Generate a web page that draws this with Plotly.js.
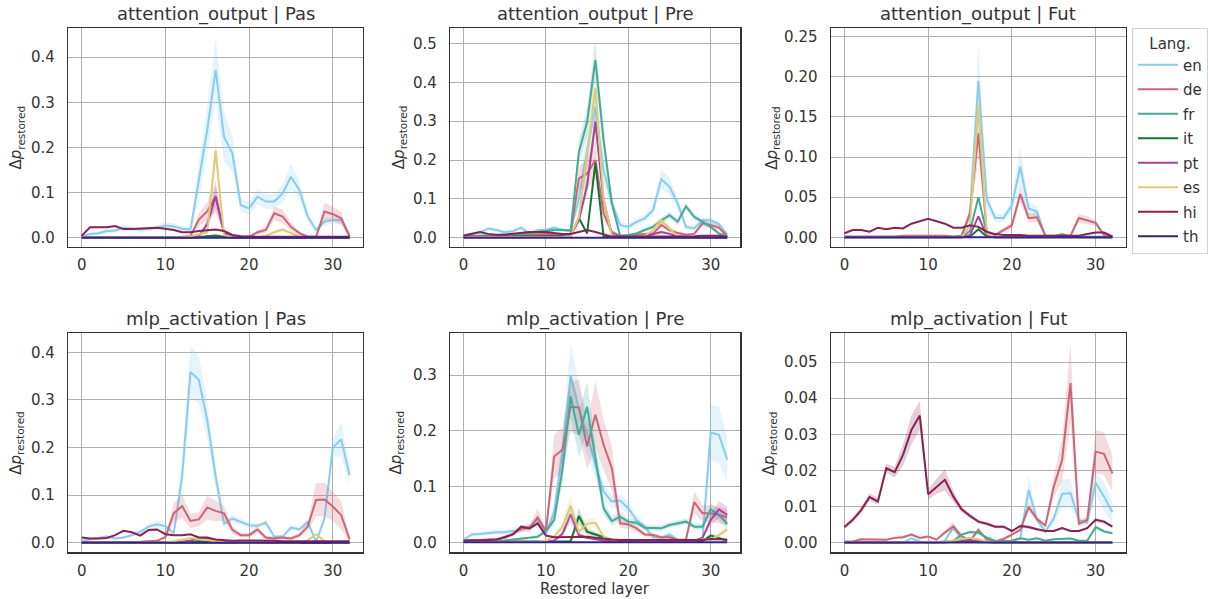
<!DOCTYPE html>
<html>
<head>
<meta charset="utf-8">
<script src="https://cdn.plot.ly/plotly-3.0.1.min.js"></script>
<style>
  html, body { margin: 0; padding: 0; background: #ffffff; }
  #chart { width: 1208px; height: 599px; }
</style>
</head>
<body>
<div id="chart"></div>
<script>
// Restored layer index
const layers = [0,1,2,3,4,5,6,7,8,9,10,11,12,13,14,15,16,17,18,19,20,21,22,23,24,25,26,27,28,29,30,31,32];
const languages = ['en','de','fr','it','pt','es','hi','th'];

// ---------- attention_output | Pas ----------
const attn_pas_en = [0.003,0.008,0.010,0.015,0.016,0.022,0.020,0.018,0.020,0.022,0.027,0.025,0.020,0.018,0.128,0.239,0.372,0.224,0.187,0.072,0.065,0.091,0.080,0.080,0.098,0.135,0.106,0.047,0.017,0.035,0.039,0.039,0.006];
const attn_pas_en_ci = [0.002,0.003,0.004,0.005,0.005,0.006,0.006,0.005,0.005,0.006,0.008,0.007,0.006,0.006,0.040,0.055,0.068,0.055,0.040,0.015,0.014,0.018,0.016,0.016,0.020,0.028,0.022,0.012,0.005,0.008,0.008,0.008,0.003];
const attn_pas_de = [0.001,0.001,0.001,0.001,0.001,0.001,0.001,0.001,0.001,0.001,0.002,0.002,0.002,0.004,0.040,0.058,0.091,0.013,0.004,0.002,0.002,0.012,0.017,0.054,0.047,0.024,0.010,0.002,0.002,0.058,0.052,0.043,0.002];
const attn_pas_de_ci = [0.000,0.000,0.000,0.000,0.000,0.000,0.000,0.000,0.000,0.000,0.001,0.001,0.001,0.002,0.015,0.020,0.035,0.005,0.002,0.001,0.001,0.005,0.006,0.015,0.015,0.010,0.005,0.001,0.001,0.020,0.016,0.015,0.001];
const attn_pas_fr = [0,0,0,0,0,0,0,0,0,0,0,0,0,0,0.001,0.002,0.003,0.001,0,0,0,0,0,0,0,0,0,0,0,0,0,0,0];
const attn_pas_it = [0,0,0,0,0,0,0,0,0,0,0,0,0,0,0.001,0.003,0.005,0.002,0,0,0,0,0,0,0,0,0,0,0,0,0,0,0];
const attn_pas_pt = [0,0,0,0,0,0,0,0,0,0,0,0,0,0,0.003,0.030,0.092,0.010,0.001,0,0,0,0,0.001,0.001,0,0,0,0,0,0,0,0];
const attn_pas_pt_ci = [0,0,0,0,0,0,0,0,0,0,0,0,0,0,0.002,0.010,0.025,0.004,0,0,0,0,0,0,0,0,0,0,0,0,0,0,0];
const attn_pas_es = [0,0,0,0,0,0,0,0,0,0,0,0,0.001,0.003,0.008,0.012,0.193,0.006,0.001,0,0,0.001,0.004,0.012,0.018,0.010,0.002,0,0,0,0,0,0];
const attn_pas_es_ci = [0,0,0,0,0,0,0,0,0,0,0,0,0,0.001,0.003,0.004,0.030,0.002,0,0,0,0,0.002,0.004,0.005,0.004,0.001,0,0,0,0,0,0];
const attn_pas_hi = [0.004,0.023,0.023,0.023,0.026,0.019,0.019,0.020,0.022,0.022,0.020,0.017,0.012,0.012,0.015,0.017,0.018,0.015,0.006,0.003,0.002,0.002,0.002,0.002,0.002,0.002,0.002,0.002,0.002,0.002,0.002,0.002,0.002];
const attn_pas_th = [0,0,0,0,0,0,0,0,0,0,0,0,0,0,0,0,0,0,0,0,0,0,0,0,0,0,0,0,0,0,0,0,0];

// ---------- attention_output | Pre ----------
const attn_pre_en = [0.007,0.011,0.014,0.024,0.020,0.014,0.017,0.026,0.011,0.020,0.020,0.026,0.020,0.020,0.100,0.225,0.337,0.174,0.090,0.033,0.028,0.041,0.050,0.071,0.151,0.131,0.088,0.028,0.024,0.045,0.045,0.035,0.009];
const attn_pre_en_ci = [0.002,0.003,0.004,0.005,0.005,0.004,0.004,0.005,0.004,0.004,0.004,0.005,0.004,0.004,0.030,0.050,0.060,0.040,0.020,0.008,0.008,0.008,0.010,0.014,0.025,0.022,0.016,0.007,0.006,0.008,0.008,0.007,0.003];
const attn_pre_de = [0.005,0.005,0.006,0.006,0.006,0.006,0.007,0.008,0.008,0.009,0.010,0.010,0.010,0.010,0.153,0.165,0.200,0.063,0.015,0.005,0.005,0.008,0.010,0.011,0.033,0.020,0.012,0.008,0.010,0.037,0.033,0.026,0.004];
const attn_pre_de_ci = [0.001,0.001,0.001,0.001,0.001,0.001,0.001,0.002,0.002,0.002,0.002,0.002,0.002,0.002,0.030,0.040,0.050,0.020,0.005,0.002,0.002,0.003,0.003,0.004,0.008,0.006,0.004,0.003,0.003,0.008,0.008,0.007,0.002];
const attn_pre_fr = [0.003,0.004,0.005,0.006,0.006,0.007,0.008,0.010,0.012,0.015,0.018,0.020,0.020,0.018,0.221,0.298,0.458,0.251,0.089,0.005,0.007,0.011,0.020,0.028,0.044,0.058,0.041,0.081,0.054,0.041,0.028,0.011,0.004];
const attn_pre_fr_ci = [0.001,0.001,0.001,0.002,0.002,0.002,0.002,0.003,0.003,0.003,0.004,0.004,0.004,0.004,0.030,0.035,0.050,0.030,0.015,0.002,0.002,0.003,0.005,0.006,0.008,0.008,0.008,0.008,0.008,0.006,0.005,0.003,0.002];
const attn_pre_it = [0.002,0.002,0.003,0.003,0.003,0.003,0.003,0.004,0.004,0.004,0.004,0.004,0.004,0.005,0.051,0.011,0.193,0.003,0.002,0.001,0.001,0.001,0.001,0.001,0.001,0.001,0.001,0.001,0.001,0.001,0.001,0.001,0.001];
const attn_pre_pt = [0.002,0.002,0.002,0.002,0.002,0.002,0.002,0.002,0.002,0.002,0.002,0.003,0.003,0.005,0.045,0.135,0.298,0.097,0.008,0.002,0.002,0.002,0.004,0.010,0.015,0.010,0.004,0.002,0.002,0.002,0.002,0.002,0.001];
const attn_pre_pt_ci = [0,0,0,0,0,0,0,0,0,0,0,0.001,0.001,0.002,0.010,0.020,0.030,0.015,0.003,0,0,0,0.002,0.003,0.004,0.003,0.002,0,0,0,0,0,0];
const attn_pre_es = [0.001,0.001,0.001,0.001,0.001,0.001,0.001,0.001,0.001,0.001,0.001,0.002,0.002,0.004,0.054,0.210,0.386,0.100,0.005,0.001,0.001,0.002,0.005,0.020,0.045,0.025,0.003,0.001,0.001,0.001,0.001,0.001,0.001];
const attn_pre_es_ci = [0,0,0,0,0,0,0,0,0,0,0,0.001,0.001,0.002,0.012,0.030,0.040,0.020,0.002,0,0,0.001,0.002,0.005,0.008,0.006,0.001,0,0,0,0,0,0];
const attn_pre_hi = [0.005,0.010,0.015,0.010,0.008,0.008,0.010,0.012,0.015,0.015,0.015,0.012,0.010,0.010,0.015,0.020,0.015,0.008,0.003,0.003,0.003,0.003,0.003,0.003,0.003,0.003,0.003,0.003,0.004,0.005,0.005,0.005,0.002];
const attn_pre_th = [0,0,0,0,0,0,0,0,0,0,0,0,0,0,0,0,0,0,0,0,0,0,0,0,0,0,0,0,0,0,0,0,0];

// ---------- attention_output | Fut ----------
const attn_fut_en = [0,0,0,0,0,0,0,0,0,0,0,0,0,0,0.002,0.030,0.195,0.047,0.024,0.024,0.040,0.088,0.036,0.032,0.002,0.001,0.001,0.001,0.001,0.001,0.001,0.001,0.001];
const attn_fut_en_ci = [0,0,0,0,0,0,0,0,0,0,0,0,0,0,0.001,0.008,0.045,0.012,0.005,0.005,0.008,0.025,0.008,0.007,0.001,0,0,0,0,0,0,0,0];
const attn_fut_de = [0.001,0.001,0.001,0.001,0.001,0.001,0.001,0.002,0.002,0.002,0.002,0.002,0.002,0.001,0.002,0.030,0.130,0.006,0.003,0.009,0.015,0.054,0.024,0.025,0.002,0.002,0.002,0.002,0.024,0.021,0.018,0.003,0.001];
const attn_fut_de_ci = [0,0,0,0,0,0,0,0.001,0.001,0.001,0.001,0.001,0.001,0,0.001,0.008,0.030,0.002,0.001,0.003,0.004,0.010,0.006,0.006,0.001,0.001,0.001,0.001,0.005,0.005,0.004,0.001,0];
const attn_fut_fr = [0,0,0,0,0,0,0,0,0,0,0,0,0,0,0,0.008,0.050,0.005,0,0,0,0,0,0,0,0.001,0.004,0.001,0,0,0,0,0];
const attn_fut_it = [0,0,0,0,0,0,0,0,0,0,0,0,0,0,0,0.001,0.010,0.001,0,0,0,0,0,0,0,0,0,0,0,0,0,0,0];
const attn_fut_pt = [0,0,0,0,0,0,0,0,0,0,0,0,0,0,0,0.003,0.026,0.002,0,0,0,0,0,0,0,0,0,0,0,0,0,0,0];
const attn_fut_es = [0,0,0,0,0,0,0,0,0,0,0,0,0,0,0,0.015,0.165,0.005,0,0,0,0,0,0,0,0,0,0,0,0,0,0,0];
const attn_fut_es_ci = [0,0,0,0,0,0,0,0,0,0,0,0,0,0,0,0.004,0.020,0.002,0,0,0,0,0,0,0,0,0,0,0,0,0,0,0];
const attn_fut_hi = [0.005,0.009,0.009,0.007,0.012,0.010,0.012,0.011,0.017,0.020,0.023,0.020,0.017,0.012,0.012,0.015,0.013,0.007,0.004,0.003,0.003,0.003,0.002,0.002,0.002,0.002,0.002,0.002,0.002,0.004,0.006,0.006,0.001];
const attn_fut_th = [0,0,0,0,0,0,0,0,0,0,0,0,0,0,0,0,0,0,0,0,0,0,0,0,0,0,0,0,0,0,0,0,0];

// ---------- mlp_activation | Pas ----------
const mlp_pas_en = [0.004,0.007,0.009,0.013,0.009,0.011,0.016,0.023,0.034,0.039,0.035,0.020,0.140,0.359,0.342,0.258,0.140,0.040,0.051,0.044,0.037,0.036,0.042,0.013,0.013,0.032,0.028,0.044,0.002,0.051,0.200,0.217,0.142];
const mlp_pas_en_ci = [0.003,0.003,0.003,0.003,0.003,0.003,0.004,0.005,0.006,0.008,0.008,0.005,0.030,0.055,0.050,0.040,0.025,0.008,0.008,0.007,0.006,0.005,0.006,0.004,0.004,0.006,0.005,0.008,0.002,0.010,0.020,0.035,0.020];
const mlp_pas_de = [0.001,0.001,0.001,0.002,0.002,0.002,0.002,0.002,0.003,0.004,0.012,0.062,0.077,0.046,0.049,0.074,0.067,0.062,0.027,0.016,0.016,0.028,0.011,0.009,0.011,0.009,0.016,0.034,0.090,0.091,0.076,0.058,0.007];
const mlp_pas_de_ci = [0,0,0,0.001,0.001,0.001,0.001,0.001,0.001,0.002,0.004,0.020,0.025,0.015,0.015,0.025,0.022,0.015,0.008,0.005,0.005,0.007,0.004,0.004,0.004,0.004,0.005,0.010,0.035,0.035,0.030,0.030,0.004];
const mlp_pas_fr = [0,0,0,0,0,0,0,0,0,0,0,0,0.001,0.001,0.001,0.001,0.001,0,0,0,0,0,0,0,0,0,0,0,0,0,0,0,0];
const mlp_pas_it = [0,0,0,0,0,0,0,0,0,0,0,0,0.001,0.002,0.003,0.002,0.001,0,0,0,0,0,0,0,0,0,0,0,0,0,0,0,0];
const mlp_pas_pt = [0,0,0,0,0,0,0,0,0,0,0,0.001,0.002,0.005,0.010,0.008,0.003,0.001,0,0,0,0,0,0,0,0,0,0,0,0,0,0,0];
const mlp_pas_es = [0,0,0,0,0,0,0,0,0,0,0,0.003,0.006,0.010,0.008,0.005,0.003,0.001,0,0,0,0,0,0,0,0,0,0.005,0.018,0.003,0,0,0];
const mlp_pas_hi = [0.011,0.009,0.009,0.010,0.016,0.025,0.022,0.015,0.027,0.028,0.018,0.016,0.016,0.018,0.011,0.011,0.007,0.005,0.004,0.005,0.005,0.004,0.004,0.004,0.003,0.003,0.003,0.003,0.003,0.003,0.003,0.003,0.003];
const mlp_pas_th = [0,0,0,0,0,0,0,0,0,0,0,0,0,0,0,0,0,0,0,0,0,0,0,0,0,0,0,0,0,0,0,0,0];

// ---------- mlp_activation | Pre ----------
const mlp_pre_en = [0.004,0.014,0.015,0.017,0.018,0.018,0.020,0.022,0.028,0.040,0.016,0.055,0.163,0.300,0.240,0.193,0.139,0.091,0.073,0.075,0.061,0.040,0.028,0.009,0.008,0.014,0.005,0.003,0.003,0.004,0.197,0.193,0.148];
const mlp_pre_en_ci = [0.002,0.004,0.004,0.004,0.004,0.004,0.004,0.005,0.006,0.008,0.005,0.015,0.035,0.055,0.045,0.035,0.025,0.015,0.012,0.012,0.012,0.008,0.006,0.003,0.003,0.004,0.002,0.002,0.002,0.002,0.050,0.050,0.040];
const mlp_pre_de = [0.003,0.003,0.004,0.005,0.005,0.008,0.015,0.025,0.025,0.045,0.020,0.154,0.166,0.243,0.242,0.172,0.229,0.175,0.133,0.034,0.032,0.025,0.014,0.013,0.009,0.009,0.004,0.005,0.072,0.052,0.052,0.049,0.045];
const mlp_pre_de_ci = [0.001,0.001,0.001,0.002,0.002,0.003,0.004,0.006,0.006,0.015,0.006,0.040,0.040,0.045,0.050,0.040,0.060,0.045,0.040,0.008,0.008,0.006,0.004,0.004,0.003,0.003,0.002,0.002,0.020,0.015,0.015,0.015,0.015];
const mlp_pre_fr = [0.002,0.002,0.002,0.002,0.002,0.003,0.005,0.006,0.008,0.010,0.020,0.040,0.130,0.262,0.193,0.243,0.154,0.061,0.038,0.046,0.037,0.035,0.026,0.025,0.025,0.031,0.034,0.037,0.028,0.028,0.059,0.049,0.033];
const mlp_pre_fr_ci = [0.001,0.001,0.001,0.001,0.001,0.001,0.002,0.002,0.003,0.003,0.004,0.010,0.025,0.040,0.040,0.045,0.025,0.012,0.008,0.008,0.006,0.005,0.005,0.005,0.005,0.005,0.005,0.005,0.005,0.005,0.010,0.010,0.008];
const mlp_pre_it = [0.001,0.001,0.001,0.001,0.001,0.001,0.001,0.001,0.001,0.001,0.001,0.001,0.001,0.002,0.047,0.019,0.014,0.009,0.002,0.001,0.001,0.001,0.001,0.001,0.001,0.001,0.001,0.001,0.001,0.002,0.012,0.008,0.003];
const mlp_pre_it_ci = [0,0,0,0,0,0,0,0,0,0,0,0,0,0.001,0.015,0.006,0.004,0.003,0.001,0,0,0,0,0,0,0,0,0,0,0.001,0.004,0.003,0.001];
const mlp_pre_pt = [0.001,0.001,0.001,0.001,0.001,0.001,0.001,0.001,0.001,0.001,0.001,0.003,0.015,0.050,0.013,0.008,0.005,0.003,0.002,0.001,0.001,0.001,0.001,0.001,0.001,0.001,0.001,0.001,0.003,0.008,0.040,0.059,0.049];
const mlp_pre_pt_ci = [0,0,0,0,0,0,0,0,0,0,0,0.001,0.005,0.015,0.005,0.003,0.002,0.001,0,0,0,0,0,0,0,0,0,0,0.001,0.003,0.010,0.015,0.015];
const mlp_pre_es = [0.001,0.001,0.001,0.001,0.001,0.001,0.001,0.001,0.001,0.001,0.003,0.010,0.028,0.066,0.019,0.033,0.035,0.010,0.005,0.004,0.005,0.003,0.003,0.003,0.003,0.003,0.003,0.003,0.003,0.005,0.005,0.013,0.023];
const mlp_pre_es_ci = [0,0,0,0,0,0,0,0,0,0,0.001,0.003,0.008,0.020,0.006,0.010,0.010,0.003,0.002,0.001,0.002,0.001,0.001,0.001,0.001,0.001,0.001,0.001,0.001,0.002,0.002,0.005,0.006];
const mlp_pre_hi = [0.003,0.003,0.003,0.004,0.005,0.010,0.014,0.028,0.025,0.034,0.012,0.009,0.009,0.009,0.010,0.010,0.008,0.006,0.005,0.004,0.004,0.003,0.003,0.003,0.003,0.003,0.003,0.003,0.003,0.004,0.006,0.005,0.005];
const mlp_pre_th = [0,0,0,0,0,0,0,0,0,0,0,0,0,0,0,0,0,0,0,0,0,0,0,0,0,0,0,0,0,0,0,0,0];

// ---------- mlp_activation | Fut ----------
const mlp_fut_en = [0,0,0,0,0,0,0,0,0.0012,0.0003,0,0,0.0005,0.0042,0.0008,0.0002,0.0001,0,0,0,0.0003,0.0012,0.0146,0.0063,0.0030,0.0067,0.0135,0.0137,0.0063,0.0055,0.0166,0.0128,0.0084];
const mlp_fut_en_ci = [0,0,0,0,0,0,0,0,0.0004,0.0001,0,0,0.0002,0.0008,0.0003,0.0001,0,0,0,0,0.0001,0.0005,0.0040,0.0010,0.0008,0.0015,0.0040,0.0040,0.0010,0.0010,0.0030,0.0040,0.0030];
const mlp_fut_de = [0.0003,0.0003,0.0009,0.0008,0.0008,0.0008,0.0013,0.0015,0.0022,0.0013,0.0017,0.0008,0.0028,0.0045,0.0018,0.0005,0.0035,0.0008,0.0003,0.0010,0.0022,0.0035,0.0098,0.0065,0.0047,0.0155,0.0229,0.0442,0.0052,0.0063,0.0252,0.0246,0.0192];
const mlp_fut_de_ci = [0.0001,0.0001,0.0002,0.0002,0.0002,0.0002,0.0003,0.0003,0.0005,0.0003,0.0004,0.0002,0.0006,0.0012,0.0004,0.0002,0.0008,0.0002,0.0001,0.0003,0.0004,0.0005,0.0012,0.0008,0.0006,0.0030,0.0060,0.0110,0.0008,0.0008,0.0060,0.0060,0.0050];
const mlp_fut_fr = [0,0,0,0,0,0,0,0,0,0,0,0,0.0002,0.0005,0.0022,0.0029,0.0027,0.0014,0.0005,0.0004,0.0005,0.0012,0.0008,0.0012,0.0005,0.0009,0.0009,0.0011,0.0005,0.0005,0.0043,0.0031,0.0026];
const mlp_fut_fr_ci = [0,0,0,0,0,0,0,0,0,0,0,0,0.0001,0.0002,0.0004,0.0004,0.0004,0.0003,0.0001,0.0001,0.0001,0.0002,0.0002,0.0002,0.0001,0.0002,0.0002,0.0002,0.0001,0.0001,0.0006,0.0005,0.0004];
const mlp_fut_it = [0,0,0,0,0,0,0,0,0,0,0,0,0,0.0001,0.0002,0.0003,0.0002,0,0,0,0,0,0,0,0,0,0,0,0,0,0,0,0];
const mlp_fut_pt = [0,0,0,0,0,0,0,0,0,0,0,0,0,0.0003,0.0006,0.0007,0.0004,0.0001,0,0,0,0,0,0,0,0,0,0,0,0,0,0,0];
const mlp_fut_es = [0,0,0,0,0,0,0,0,0,0,0,0,0.0002,0.0006,0.0010,0.0013,0.0009,0.0003,0,0,0,0,0,0,0,0,0,0,0,0,0,0,0];
const mlp_fut_hi = [0.0043,0.0063,0.0090,0.0126,0.0114,0.0206,0.0195,0.0243,0.0312,0.0352,0.0134,0.0155,0.0174,0.0128,0.0092,0.0074,0.0058,0.0052,0.0044,0.0044,0.0032,0.0046,0.0043,0.0037,0.0032,0.0032,0.0040,0.0032,0.0032,0.0040,0.0063,0.0058,0.0044];
const mlp_fut_hi_ci = [0.0006,0.0007,0.0009,0.0010,0.0010,0.0012,0.0015,0.0030,0.0040,0.0040,0.0015,0.0020,0.0030,0.0015,0.0008,0.0006,0.0005,0.0004,0.0004,0.0004,0.0003,0.0004,0.0004,0.0003,0.0003,0.0003,0.0003,0.0003,0.0003,0.0003,0.0005,0.0005,0.0004];
const mlp_fut_th = [0,0,0,0,0,0,0,0,0,0,0,0,0,0,0,0,0,0,0,0,0,0,0,0,0,0,0,0,0,0,0,0,0];

// ---------- styling ----------
const langColors = {
  en: [136, 204, 238], de: [204, 102, 119], fr: [68, 170, 153], it: [17, 119, 51],
  pt: [170, 68, 153], es: [221, 204, 119], hi: [136, 34, 85], th: [51, 34, 136]
};
const rgb = c => `rgb(${c[0]},${c[1]},${c[2]})`;
const rgba = (c, a) => `rgba(${c[0]},${c[1]},${c[2]},${a})`;

const panels = [
  { title: 'attention_output | Pas', yrange: [-0.020, 0.464], dtick: 0.1, fmt: '.1f',
    series: { en: attn_pas_en, de: attn_pas_de, fr: attn_pas_fr, it: attn_pas_it, pt: attn_pas_pt, es: attn_pas_es, hi: attn_pas_hi, th: attn_pas_th },
    ci: { en: attn_pas_en_ci, de: attn_pas_de_ci, pt: attn_pas_pt_ci, es: attn_pas_es_ci } },
  { title: 'attention_output | Pre', yrange: [-0.023, 0.539], dtick: 0.1, fmt: '.1f',
    series: { en: attn_pre_en, de: attn_pre_de, fr: attn_pre_fr, it: attn_pre_it, pt: attn_pre_pt, es: attn_pre_es, hi: attn_pre_hi, th: attn_pre_th },
    ci: { en: attn_pre_en_ci, de: attn_pre_de_ci, fr: attn_pre_fr_ci, pt: attn_pre_pt_ci, es: attn_pre_es_ci } },
  { title: 'attention_output | Fut', yrange: [-0.0117, 0.2605], dtick: 0.05, fmt: '.2f',
    series: { en: attn_fut_en, de: attn_fut_de, fr: attn_fut_fr, it: attn_fut_it, pt: attn_fut_pt, es: attn_fut_es, hi: attn_fut_hi, th: attn_fut_th },
    ci: { en: attn_fut_en_ci, de: attn_fut_de_ci, es: attn_fut_es_ci } },
  { title: 'mlp_activation | Pas', yrange: [-0.020, 0.440], dtick: 0.1, fmt: '.1f',
    series: { en: mlp_pas_en, de: mlp_pas_de, fr: mlp_pas_fr, it: mlp_pas_it, pt: mlp_pas_pt, es: mlp_pas_es, hi: mlp_pas_hi, th: mlp_pas_th },
    ci: { en: mlp_pas_en_ci, de: mlp_pas_de_ci } },
  { title: 'mlp_activation | Pre', yrange: [-0.018, 0.375], dtick: 0.1, fmt: '.1f',
    series: { en: mlp_pre_en, de: mlp_pre_de, fr: mlp_pre_fr, it: mlp_pre_it, pt: mlp_pre_pt, es: mlp_pre_es, hi: mlp_pre_hi, th: mlp_pre_th },
    ci: { en: mlp_pre_en_ci, de: mlp_pre_de_ci, fr: mlp_pre_fr_ci, it: mlp_pre_it_ci, pt: mlp_pre_pt_ci, es: mlp_pre_es_ci } },
  { title: 'mlp_activation | Fut', yrange: [-0.0027, 0.058], dtick: 0.01, fmt: '.2f',
    series: { en: mlp_fut_en, de: mlp_fut_de, fr: mlp_fut_fr, it: mlp_fut_it, pt: mlp_fut_pt, es: mlp_fut_es, hi: mlp_fut_hi, th: mlp_fut_th },
    ci: { en: mlp_fut_en_ci, de: mlp_fut_de_ci, fr: mlp_fut_fr_ci, hi: mlp_fut_hi_ci } }
];

// subplot placement (paper fractions)
const W = 1208, H = 599;
const colPx = [[68.3, 363.3], [450.7, 741.0], [831.7, 1126.7]];
const rowPx = [[28.3, 246.7], [333.3, 552.3]];
const yLabelX = [[17, 400, 773], [17, 397, 770]];

const FONT = 'DejaVu Sans, Liberation Sans, sans-serif';
const TXT = '#333333';
const GRID = '#b0b0b0';

const traces = [];
const layout = {
  width: W, height: H,
  margin: { l: 0, r: 0, t: 0, b: 0 },
  paper_bgcolor: '#ffffff', plot_bgcolor: '#ffffff',
  font: { family: FONT, size: 15, color: TXT },
  showlegend: true,
  legend: {
    x: 1133 / W, y: 1 - 28 / H, xanchor: 'left', yanchor: 'top',
    bgcolor: '#ffffff', bordercolor: '#d0d0d0', borderwidth: 1,
    font: { family: FONT, size: 15, color: TXT },
    title: { text: 'Lang.', side: 'top center', font: { family: FONT, size: 15, color: TXT } },
    tracegroupgap: 2, itemwidth: 40
  },
  annotations: []
};

panels.forEach((p, i) => {
  const r = Math.floor(i / 3), c = i % 3;
  const sfx = i === 0 ? '' : String(i + 1);
  const xa = 'x' + sfx, ya = 'y' + sfx;
  const xd = [colPx[c][0] / W, colPx[c][1] / W];
  const yd = [1 - rowPx[r][1] / H, 1 - rowPx[r][0] / H];

  languages.forEach(lang => {
    const col = langColors[lang];
    const v = p.series[lang];
    const s = p.ci[lang];
    if (s) {
      const upper = v.map((val, k) => val + s[k]);
      const lower = v.map((val, k) => Math.max(0, val - s[k]));
      traces.push({
        x: layers.concat(layers.slice().reverse()),
        y: upper.concat(lower.slice().reverse()),
        xaxis: xa, yaxis: ya, mode: 'lines', fill: 'toself',
        fillcolor: rgba(col, 0.22), line: { width: 0, color: rgba(col, 0) },
        hoverinfo: 'skip', showlegend: false, legendgroup: lang
      });
    }
    traces.push({
      x: layers, y: v, xaxis: xa, yaxis: ya, mode: 'lines', name: lang,
      line: { color: rgb(col), width: 2 },
      legendgroup: lang, showlegend: i === 0
    });
  });

  layout['xaxis' + sfx] = {
    domain: xd, anchor: ya, range: [-1.6, 33.6],
    tickvals: [0, 10, 20, 30], ticks: '', ticklabelstandoff: 4,
    showgrid: true, gridcolor: GRID, gridwidth: 1, zeroline: false,
    showline: true, mirror: true, linecolor: '#333333', linewidth: 1.5,
    tickfont: { family: FONT, size: 15, color: TXT }
  };
  layout['yaxis' + sfx] = {
    domain: yd, anchor: xa, range: p.yrange,
    tick0: 0, dtick: p.dtick, tickformat: p.fmt, ticks: '', ticklabelstandoff: 9,
    showgrid: true, gridcolor: GRID, gridwidth: 1, zeroline: false,
    showline: true, mirror: true, linecolor: '#333333', linewidth: 1.5,
    tickfont: { family: FONT, size: 15, color: TXT }
  };

  // panel title
  layout.annotations.push({
    text: p.title, xref: 'paper', yref: 'paper',
    x: (xd[0] + xd[1]) / 2, y: yd[1], xanchor: 'center', yanchor: 'bottom',
    yshift: 1, showarrow: false, font: { family: FONT, size: 18, color: TXT }
  });
  // y axis label
  layout.annotations.push({
    text: 'Δ<i>p</i><sub>restored</sub>', xref: 'paper', yref: 'paper',
    x: yLabelX[r][c] / W, y: (yd[0] + yd[1]) / 2, xanchor: 'center', yanchor: 'middle',
    textangle: -90, showarrow: false, font: { family: FONT, size: 15, color: TXT }
  });
});

// shared x label under the middle column
layout.annotations.push({
  text: 'Restored layer', xref: 'paper', yref: 'paper',
  x: (colPx[1][0] + colPx[1][1]) / 2 / W, y: 1 - 589 / H,
  xanchor: 'center', yanchor: 'middle', showarrow: false,
  font: { family: FONT, size: 15, color: TXT }
});

Plotly.newPlot('chart', traces, layout, { staticPlot: true, displayModeBar: false });
</script>
</body>
</html>
